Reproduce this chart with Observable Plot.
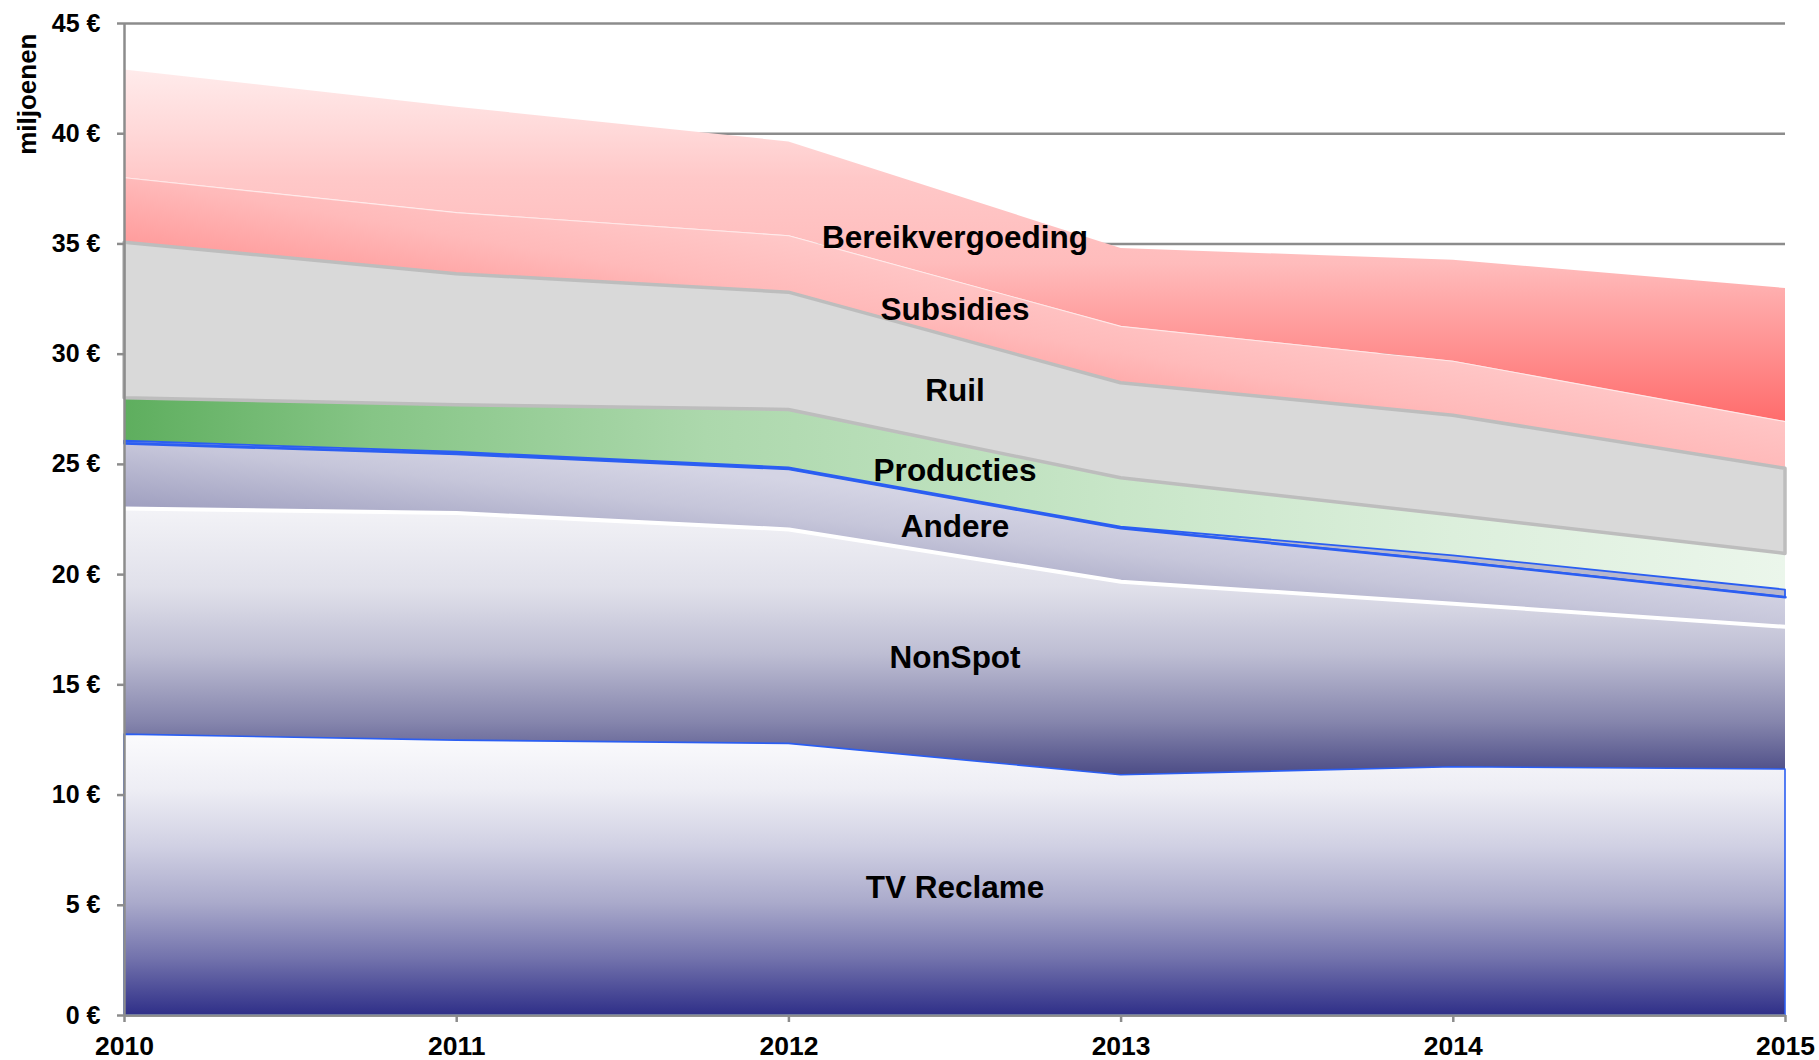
<!DOCTYPE html>
<html>
<head>
<meta charset="utf-8">
<script src="https://cdn.jsdelivr.net/npm/d3@7"></script>
<script src="https://cdn.jsdelivr.net/npm/@observablehq/plot@0.6"></script>
<style>
  html, body { margin: 0; padding: 0; background: #ffffff; }
  #chart { width: 1819px; height: 1060px; overflow: hidden; }
</style>
</head>
<body>
<div id="chart"></div>
<script>
// ---- data (miljoenen €) ----
const years = [2010, 2011, 2012, 2013, 2014, 2015];
const seriesNames = ["TV Reclame", "NonSpot", "Andere", "Overig", "Producties", "Ruil", "Subsidies", "Bereikvergoeding"];
const tvReclame        = [12.74, 12.47, 12.32, 10.90, 11.26, 11.16];
const nonSpot          = [10.26, 10.32, 9.73, 8.78, 7.42, 6.47];
const andere           = [2.95, 2.68, 2.74, 2.42, 1.92, 1.34];
const overig           = [0.10, 0.08, 0.05, 0.05, 0.25, 0.33];
const producties       = [1.95, 2.13, 2.63, 2.22, 1.83, 1.64];
const ruil             = [7.05, 5.95, 5.32, 4.31, 4.53, 3.86];
const subsidies        = [2.95, 2.79, 2.58, 2.58, 2.47, 2.14];
const bereikvergoeding = [4.89, 4.78, 4.26, 3.53, 4.58, 6.04];
const labelledSeries = ["Bereikvergoeding", "Subsidies", "Ruil", "Producties", "Andere", "NonSpot", "TV Reclame"];
const yTicks = [0, 5, 10, 15, 20, 25, 30, 35, 40, 45];
const xTicks = years;

const values = [tvReclame, nonSpot, andere, overig, producties, ruil, subsidies, bereikvergoeding];

// stacked table
const cum = years.map(() => 0);
const rows = [];
values.forEach((vals, i) => {
  vals.forEach((v, j) => {
    rows.push({series: seriesNames[i], year: years[j], y1: cum[j], y2: cum[j] + v});
    cum[j] += v;
  });
});
const bySeries = name => rows.filter(r => r.series === name);

// label positions: middle of each layer between 2012 and 2013
const labels = labelledSeries.map(name => {
  const r = bySeries(name);
  const a = r.find(d => d.year === years[2]), b = r.find(d => d.year === years[3]);
  return {name, x: (a.year + b.year) / 2, y: ((a.y1 + a.y2) / 2 + (b.y1 + b.y2) / 2) / 2};
});

const gridColor = "#8c8c8c";
const blue = "#2b5ef2";

const fillMarks = seriesNames.map((name, i) =>
  Plot.areaY(bySeries(name), {x: "year", y1: "y1", y2: "y2", fill: `url(#grad${i})`, curve: "linear"})
);

const svg = Plot.plot({
  width: 1819,
  height: 1060,
  marginLeft: 124,
  marginRight: 34,
  marginTop: 23,
  marginBottom: 45,
  x: {domain: [2010, 2015]},
  y: {domain: [0, 45]},
  style: {fontFamily: "'Liberation Sans', Arial, sans-serif", background: "#ffffff", color: "#000"},
  marks: [
    Plot.gridY(yTicks, {stroke: gridColor, strokeOpacity: 1, strokeWidth: 2.5}),
    ...fillMarks,
    // outlines
    Plot.areaY(bySeries("Ruil"), {x: "year", y1: "y1", y2: "y2", fill: "none", stroke: "#bdbdbd", strokeWidth: 3.5}),
    Plot.areaY(bySeries("Overig"), {x: "year", y1: "y1", y2: "y2", fill: "none", stroke: blue, strokeWidth: 1.8}),
    Plot.areaY(bySeries("TV Reclame"), {x: "year", y1: "y1", y2: "y2", fill: "none", stroke: blue, strokeWidth: 1.6}),
    Plot.lineY(bySeries("NonSpot"), {x: "year", y: "y2", stroke: "#ffffff", strokeWidth: 4}),
    Plot.lineY(bySeries("Andere"), {x: "year", y: "y2", stroke: blue, strokeWidth: 2.5}),
    Plot.lineY(bySeries("Subsidies"), {x: "year", y: "y2", stroke: "#ffffff", strokeWidth: 1.1, strokeOpacity: 0.6}),
    // axes
    Plot.ruleX([2010], {y1: 0, y2: 45, stroke: gridColor, strokeWidth: 2.5}),
    Plot.ruleY([0], {stroke: gridColor, strokeWidth: 2.5}),
    Plot.axisY({ticks: yTicks, tickFormat: d => `${d} €`, fontSize: 25, fontWeight: "bold", tickSize: 7, tickPadding: 17, stroke: gridColor, strokeWidth: 2.5, fill: "#000", label: null}),
    Plot.axisX({ticks: xTicks, tickFormat: d => String(d), fontSize: 26.5, fontWeight: "bold", tickSize: 7, tickPadding: 14, stroke: gridColor, strokeWidth: 2.5, fill: "#000", label: null}),
    Plot.text(["miljoenen"], {frameAnchor: "top-left", text: d => d, rotate: -90, textAnchor: "end", lineAnchor: "middle", dx: -97, dy: 10, fontSize: 26, fontWeight: "bold", fill: "#000"}),
    // layer labels
    Plot.text(labels, {x: "x", y: "y", text: "name", fontSize: 31.5, fontWeight: "bold", fill: "#000"})
  ]
});

// gradients
const defs = d3.select(svg).insert("defs", ":first-child");
function grad(id, [x1, y1, x2, y2], stops) {
  const g = defs.append("linearGradient").attr("id", id)
    .attr("x1", x1).attr("y1", y1).attr("x2", x2).attr("y2", y2);
  stops.forEach(([o, c]) => g.append("stop").attr("offset", o).attr("stop-color", c));
}
grad("grad0", [0, 0, 0, 1], [[0, "#fbfbfd"], [0.2, "#ededf4"], [0.4, "#d0d0e3"], [0.6, "#aaaacb"], [0.8, "#7272ac"], [1, "#2f2f88"]]);
grad("grad1", [0, 0, 0, 1], [[0, "#f3f3f7"], [0.3, "#e0e0ea"], [0.55, "#bdbdd3"], [0.8, "#8686ad"], [1, "#4c4c86"]]);
grad("grad2", [1, 0, 0, 1], [[0.4, "#d4d4e4"], [0.5, "#c6c6da"], [0.7, "#9a9abc"]]);
grad("grad3", [0, 0, 0, 1], [[0, "#b8b8cc"], [1, "#b8b8cc"]]);
grad("grad4", [0, 0, 1, 0], [[0, "#5eae5e"], [0.15, "#86c586"], [0.35, "#acd8ac"], [0.6, "#c8e6c8"], [0.8, "#dcefdc"], [1, "#ebf6eb"]]);
grad("grad5", [0, 0, 0, 1], [[0, "#d9d9d9"], [1, "#d9d9d9"]]);
grad("grad6", [1, 0, 0, 1], [[0.4, "#ffc8c8"], [0.5, "#ffbaba"], [0.62, "#ff9a9a"]]);
grad("grad7", [0, 0, 0, 1], [[0, "#ffebeb"], [0.18, "#ffd8d8"], [0.31, "#ffc8c8"], [0.55, "#ffbcbc"], [0.75, "#ff9898"], [1, "#ff6c6c"]]);

document.getElementById("chart").appendChild(svg);
</script>
</body>
</html>
